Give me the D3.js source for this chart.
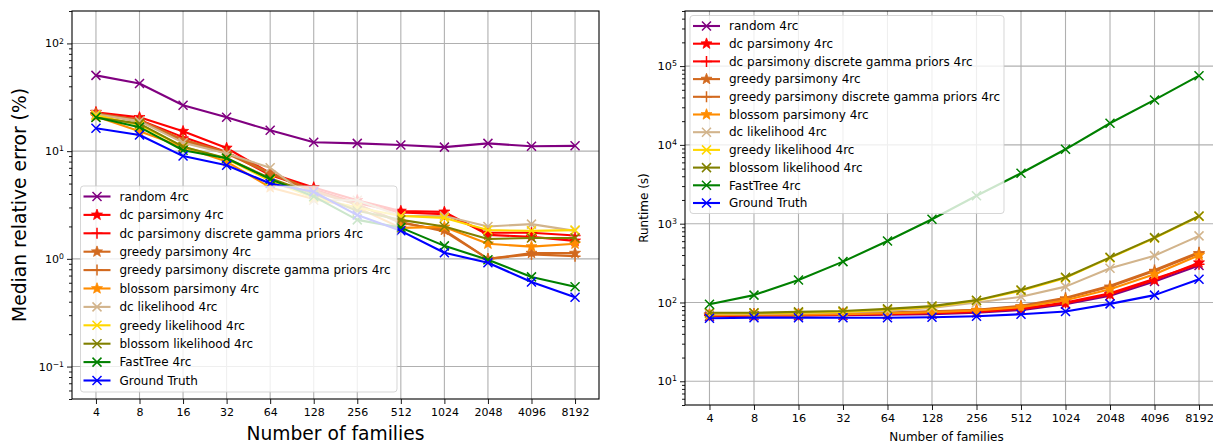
<!DOCTYPE html>
<html>
<head>
<meta charset="utf-8">
<script src="https://d3js.org/d3.v7.min.js"></script>
<style>
  body { margin: 0; background: #fff; }
  svg { display: block; font-family: "DejaVu Sans", sans-serif; }
</style>
</head>
<body>
<svg id="chart" width="1213" height="444"></svg>
<script>
// x values (number of families)
const families = [4, 8, 16, 32, 64, 128, 256, 512, 1024, 2048, 4096, 8192];

const seriesNames = [
  'random 4rc',
  'dc parsimony 4rc',
  'dc parsimony discrete gamma priors 4rc',
  'greedy parsimony 4rc',
  'greedy parsimony discrete gamma priors 4rc',
  'blossom parsimony 4rc',
  'dc likelihood 4rc',
  'greedy likelihood 4rc',
  'blossom likelihood 4rc',
  'FastTree 4rc',
  'Ground Truth'
];
const seriesColors = ['#800080', '#ff0000', '#ff0000', '#d2691e', '#d2691e', '#ff8c00',
  '#d2b48c', '#ffd700', '#808000', '#008000', '#0000ff'];
const seriesMarkers = ['x', 'star', 'plus', 'star', 'plus', 'star', 'x', 'x', 'x', 'x', 'x'];

// median relative error (%) per series, same order as seriesNames
const medianError = [
  [50.5, 42.5, 26.7, 20.6, 15.6, 12.1, 11.8, 11.4, 10.9, 11.8, 11.1, 11.2],
  [23, 20.6, 15.3, 10.7, 6.25, 4.6, 3.5, 2.78, 2.73, 1.67, 1.6, 1.47],
  [22.5, 19.5, 13.5, 9.8, 6.0, 4.4, 3.3, 2.7, 2.6, 1.75, 1.75, 1.65],
  [22, 19, 12.5, 9.5, 6.2, 4.2, 3.2, 2.15, 1.85, 1.0, 1.13, 1.13],
  [22.5, 19.5, 12.8, 9.8, 6.3, 4.3, 3.2, 2.2, 1.8, 1.0, 1.1, 1.06],
  [21, 15.3, 10.9, 8.0, 4.6, 3.6, 3.0, 1.94, 1.98, 1.38, 1.3, 1.38],
  [22, 19, 12, 9.5, 7.0, 3.5, 3.5, 2.5, 2.5, 2.0, 2.1, 1.82],
  [21.5, 17.5, 11, 8.5, 5.3, 3.7, 3.0, 2.5, 2.4, 1.85, 1.82, 1.85],
  [20.5, 18, 11, 8.6, 5.6, 4.0, 2.8, 2.3, 2.0, 1.53, 1.56, 1.56],
  [20.6, 16.7, 10.2, 8.6, 5.5, 3.8, 2.3, 1.95, 1.32, 0.98, 0.68, 0.55],
  [16.3, 14.1, 9.0, 7.4, 5.0, 4.2, 2.55, 1.82, 1.14, 0.92, 0.61, 0.44]
];

// runtime (s) per series
const runtime = [
  [67, 68, 68, 69, 70, 71, 74, 80, 95, 122, 185, 295],
  [68, 69, 69, 70, 71, 73, 76, 83, 98, 127, 193, 320],
  [69, 70, 70, 71, 72, 74, 77, 84, 100, 131, 200, 305],
  [70, 71, 71, 72, 74, 76, 80, 89, 112, 158, 250, 420],
  [71, 72, 72, 73, 75, 77, 81, 91, 115, 163, 258, 435],
  [69, 70, 70, 71, 73, 75, 79, 87, 107, 147, 228, 397],
  [72, 72, 73, 75, 78, 85, 100, 118, 159, 272, 393, 700],
  [73, 73, 74, 76, 81, 88, 105, 141, 205, 368, 655, 1230],
  [74, 74, 76, 78, 83, 90, 107, 144, 209, 374, 665, 1250],
  [95, 124, 193, 330, 602, 1138, 2265, 4370, 8790, 18800, 37200, 75500],
  [63, 64, 64, 64, 64, 65, 67, 71, 77, 96, 124, 197]
];

const errorDecades = [0.1, 1, 10, 100];
const runtimeDecades = [10, 100, 1000, 10000, 100000];

const svg = d3.select('#chart');

// minor ticks 2..9 for each decade inside domain
function minorTicks(domain) {
  const out = [];
  for (let e = Math.floor(Math.log10(domain[0])); e <= Math.ceil(Math.log10(domain[1])); e++) {
    for (let m = 2; m <= 9; m++) {
      const v = m * Math.pow(10, e);
      if (v >= domain[0] && v <= domain[1]) out.push(v);
    }
  }
  return out;
}

function drawMarker(g, type, color) {
  if (type === 'x') {
    g.append('path').attr('d', 'M-4.5,-4.5L4.5,4.5M-4.5,4.5L4.5,-4.5')
      .attr('stroke', color).attr('stroke-width', 1.5).attr('fill', 'none');
  } else if (type === 'plus') {
    g.append('path').attr('d', 'M-5.5,0L5.5,0M0,-5.5L0,5.5')
      .attr('stroke', color).attr('stroke-width', 1.5).attr('fill', 'none');
  } else {
    const pts = [];
    for (let k = 0; k < 10; k++) {
      const r = k % 2 === 0 ? 5.8 : 2.4;
      const a = -Math.PI / 2 + k * Math.PI / 5;
      pts.push([r * Math.cos(a), r * Math.sin(a)]);
    }
    g.append('path').attr('d', 'M' + pts.map(p => p.join(',')).join('L') + 'Z')
      .attr('fill', color).attr('stroke', color).attr('stroke-width', 0.8);
  }
}

function drawPanel(opt) {
  const x = d3.scaleLog().base(2).domain([Math.pow(2, 1.45), Math.pow(2, 13.55)]).range([opt.left, opt.right]);
  const y = d3.scaleLog().domain(opt.yDomain).range([opt.bottom, opt.top]);
  const g = svg.append('g');

  const clipId = 'clip' + opt.id;
  svg.append('clipPath').attr('id', clipId).append('rect')
    .attr('x', opt.left).attr('y', opt.top)
    .attr('width', opt.right - opt.left).attr('height', opt.bottom - opt.top);

  // grid
  const grid = g.append('g').attr('stroke', '#b0b0b0').attr('stroke-width', 1.1);
  families.forEach(f => {
    grid.append('line').attr('x1', x(f)).attr('x2', x(f)).attr('y1', opt.top).attr('y2', opt.bottom);
  });
  opt.decades.forEach(v => {
    grid.append('line').attr('x1', opt.left).attr('x2', opt.right).attr('y1', y(v)).attr('y2', y(v));
  });

  // series
  const plot = g.append('g').attr('clip-path', `url(#${clipId})`);
  const line = d3.line().x((d, i) => x(families[i])).y(d => y(d));
  opt.values.forEach((vals, s) => {
    plot.append('path').datum(vals).attr('d', line)
      .attr('fill', 'none').attr('stroke', seriesColors[s]).attr('stroke-width', 2.1)
      .attr('stroke-linejoin', 'round');
    vals.forEach((v, i) => {
      const m = plot.append('g').attr('transform', `translate(${x(families[i])},${y(v)})`);
      drawMarker(m, seriesMarkers[s], seriesColors[s]);
    });
  });

  // axes
  const xAxis = g.append('g').attr('transform', `translate(0,${opt.bottom})`)
    .call(d3.axisBottom(x).tickValues(families).tickFormat(d => d).tickSize(5).tickPadding(4));
  xAxis.selectAll('text').attr('font-size', opt.tickFont).attr('fill', '#000')
    .attr('font-family', '"DejaVu Sans", sans-serif');

  const yAxis = g.append('g').attr('transform', `translate(${opt.left},0)`)
    .call(d3.axisLeft(y).tickValues(opt.decades).tickFormat('').tickSize(5));
  yAxis.selectAll('.tick').each(function(d) {
    const e = Math.round(Math.log10(d));
    const t = d3.select(this).append('text').attr('x', -8).attr('dy', '0.32em')
      .attr('text-anchor', 'end').attr('fill', '#000').attr('font-size', opt.tickFont)
      .attr('font-family', '"DejaVu Sans", sans-serif');
    t.append('tspan').text('10');
    t.append('tspan').attr('dy', '-0.5em').attr('font-size', opt.tickFont * 0.7)
      .text(e < 0 ? '\u2212' + (-e) : e);
  });
  g.append('g').attr('transform', `translate(${opt.left},0)`)
    .call(d3.axisLeft(y).tickValues(minorTicks(opt.yDomain)).tickFormat('').tickSize(3));
  g.selectAll('.domain').remove();
  g.selectAll('.tick line').attr('stroke', '#000').attr('stroke-width', 0.9);

  // spines
  g.append('rect').attr('x', opt.left).attr('y', opt.top)
    .attr('width', opt.right - opt.left).attr('height', opt.bottom - opt.top)
    .attr('fill', 'none').attr('stroke', '#000').attr('stroke-width', 1.1);

  // axis labels
  g.append('text').attr('x', (opt.left + Math.min(opt.right, 1213 + 10)) / 2 + opt.xLabelShift).attr('y', opt.xLabelY)
    .attr('text-anchor', 'middle').attr('font-size', opt.labelFont).text('Number of families');
  g.append('text').attr('transform', `translate(${opt.yLabelX},${(opt.top + opt.bottom) / 2}) rotate(-90)`)
    .attr('text-anchor', 'middle').attr('font-size', opt.labelFont).text(opt.yLabel);

  // legend
  const lg = g.append('g');
  lg.append('rect').attr('x', opt.legend.x).attr('y', opt.legend.y)
    .attr('width', opt.legend.w).attr('height', opt.legend.h).attr('rx', 3)
    .attr('fill', '#fff').attr('fill-opacity', 0.8)
    .attr('stroke', '#cccccc').attr('stroke-opacity', 0.8);
  seriesNames.forEach((name, s) => {
    const ry = opt.legend.firstRow + s * opt.legend.step;
    const lx = opt.legend.x + 3;
    lg.append('line').attr('x1', lx).attr('x2', lx + 27).attr('y1', ry).attr('y2', ry)
      .attr('stroke', seriesColors[s]).attr('stroke-width', 2.1);
    drawMarker(lg.append('g').attr('transform', `translate(${lx + 13.5},${ry})`), seriesMarkers[s], seriesColors[s]);
    lg.append('text').attr('x', lx + 36).attr('y', ry).attr('dy', '0.35em')
      .attr('font-size', 12).text(name);
  });
}

drawPanel({
  id: 'err', left: 72, right: 599, top: 11, bottom: 399,
  yDomain: [0.05, 200], decades: errorDecades, values: medianError,
  tickFont: 11, labelFont: 18.7, xLabelY: 440, xLabelShift: 0, yLabelX: 26,
  yLabel: 'Median relative error (%)',
  legend: { x: 80.5, y: 186, w: 316.5, h: 206, firstRow: 196.5, step: 18.4 }
});

drawPanel({
  id: 'rt', left: 685, right: 1223.5, top: 11, bottom: 405,
  yDomain: [5, 5e5], decades: runtimeDecades, values: runtime,
  tickFont: 11.3, labelFont: 12, xLabelY: 441, xLabelShift: -7.5, yLabelX: 648,
  yLabel: 'Runtime (s)',
  legend: { x: 690, y: 15.5, w: 314, h: 198, firstRow: 26, step: 17.7 }
});
</script>
</body>
</html>
